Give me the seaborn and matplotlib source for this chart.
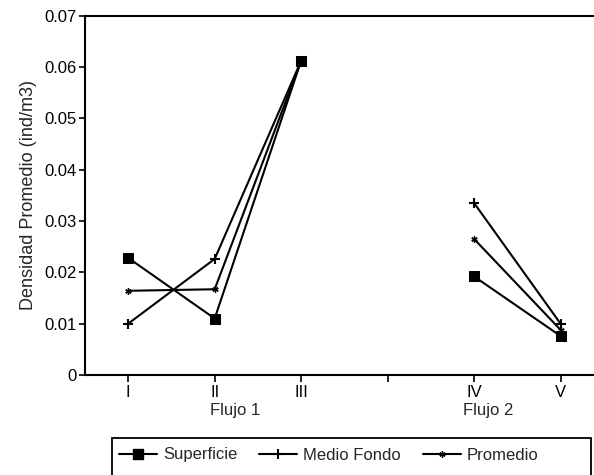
import numpy as np
import pandas as pd
import matplotlib
matplotlib.use("Agg")
import matplotlib.pyplot as plt
from matplotlib.lines import Line2D
from matplotlib.patches import Rectangle
import seaborn as sns

# Station categories along the x axis (the blank slot separates the two flows)
categorias = ["I", "II", "III", "", "IV", "V"]
flujos = ["Flujo 1", "Flujo 1", "Flujo 1", None, "Flujo 2", "Flujo 2"]

# Mean density (ind/m3) per station
superficie = [0.0228, 0.0110, 0.0612, np.nan, 0.0192, 0.0076]
medio_fondo = [0.0100, 0.0226, 0.0612, np.nan, 0.0335, 0.0100]
promedio = [0.0164, 0.0167, 0.0612, np.nan, 0.0265, 0.0088]

series_nombres = ["Superficie", "Medio Fondo", "Promedio"]
y_ticks = [0, 0.01, 0.02, 0.03, 0.04, 0.05, 0.06, 0.07]
y_labels = ["0", "0.01", "0.02", "0.03", "0.04", "0.05", "0.06", "0.07"]
grupo_labels = ["Flujo 1", "Flujo 2"]

sns.set_style("ticks")
plt.rcParams["font.family"] = ["Liberation Sans", "DejaVu Sans"]
plt.rcParams["font.size"] = 12

rows = []
for nombre, vals in zip(series_nombres, [superficie, medio_fondo, promedio]):
    for i, (v, f) in enumerate(zip(vals, flujos)):
        rows.append({"serie": nombre, "pos": i, "valor": v, "flujo": f})
df = pd.DataFrame(rows).dropna()

estilos = {
    "Superficie": dict(marker="s", markersize=7.5),
    "Medio Fondo": dict(marker="+", markersize=7.5, markeredgewidth=1.5),
    "Promedio": dict(marker=(6, 2, 0), markersize=4.5, markeredgewidth=1.0),
}

fig = plt.figure(figsize=(5.94, 4.75), dpi=100)
ax = fig.add_axes([0.1431, 0.2105, 0.8733, 0.7568])

for nombre in series_nombres:
    sub = df[df["serie"] == nombre]
    sns.lineplot(data=sub, x="pos", y="valor", units="flujo", estimator=None,
                 color="black", linewidth=1.5, markeredgecolor="black",
                 markerfacecolor="black", ax=ax, legend=False,
                 **estilos[nombre])

ax.set_xlim(-0.5, 5.5)
ax.set_ylim(0, 0.07)
ax.set_xticks(range(len(categorias)))
ax.set_xticklabels(categorias, fontsize=12)
ax.set_yticks(y_ticks)
ax.set_yticklabels(y_labels, fontsize=12)
ax.set_xlabel("")
ax.set_ylabel("Densidad Promedio (ind/m3)", fontsize=13, labelpad=5)
ax.tick_params(axis="x", direction="out", length=5, width=1.2, pad=2, colors="black")
ax.tick_params(axis="y", direction="out", length=4, width=1.2, pad=2, colors="black")
for side in ["left", "bottom", "top"]:
    ax.spines[side].set_visible(True)
    ax.spines[side].set_linewidth(1.5)
    ax.spines[side].set_color("black")
ax.spines["right"].set_visible(False)

# Flow group labels under the station ticks
trans = ax.get_xaxis_transform()
for lab, xc in zip(grupo_labels, [1.24, 4.16]):
    ax.text(xc, -0.10, lab, transform=trans, ha="center", va="center", fontsize=12)

# Legend box (open at the bottom of the figure)
fig.patches.append(Rectangle((112 / 594, -0.05), (591 - 112) / 594, 0.05 + 1 - 438 / 475,
                             transform=fig.transFigure, fill=False,
                             edgecolor="black", linewidth=1.3))

handles = [Line2D([], [], color="black", lw=1.5, **estilos[n]) for n in series_nombres]
leg = fig.legend(handles, series_nombres, ncol=3, loc="center left",
                 bbox_to_anchor=(119 / 594, 1 - 455 / 475),
                 frameon=False, fontsize=12, handlelength=2.3,
                 handletextpad=0.35, borderpad=0.0, columnspacing=1.3,
                 borderaxespad=0.0)

fig.savefig("out.png", dpi=100)
